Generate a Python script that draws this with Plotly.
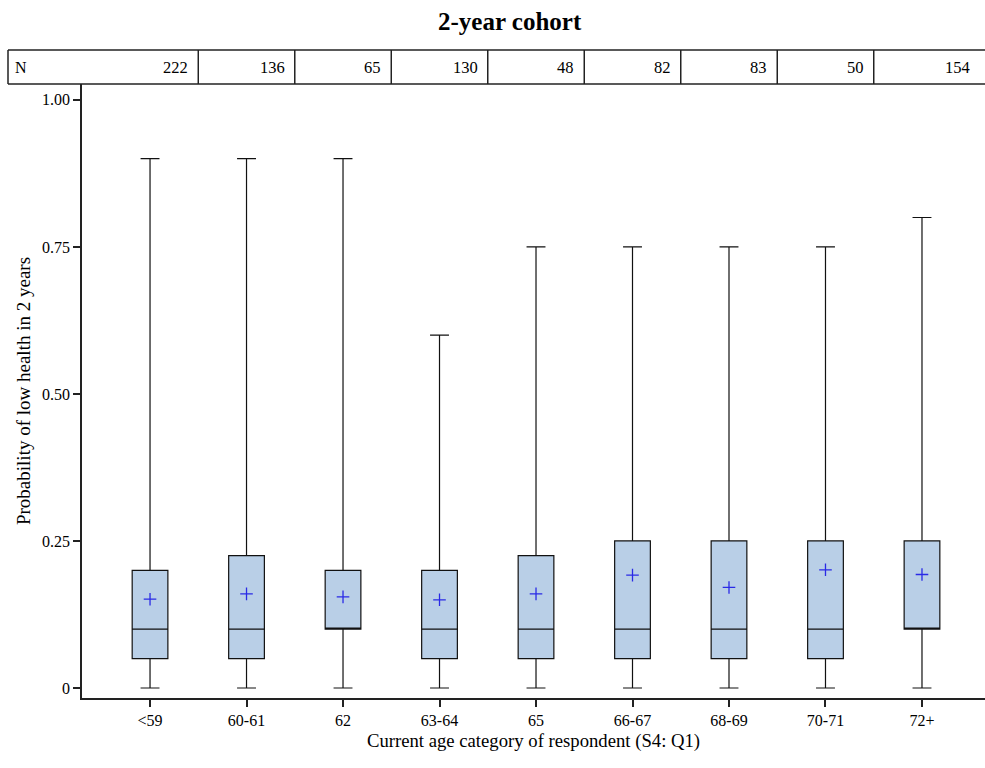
import plotly.graph_objects as go

# Age categories and per-group summary statistics
categories = ["<59", "60-61", "62", "63-64", "65", "66-67", "68-69", "70-71", "72+"]
n_counts = [222, 136, 65, 130, 48, 82, 83, 50, 154]
lower_whisker = [0, 0, 0, 0, 0, 0, 0, 0, 0]
q1 = [0.05, 0.05, 0.10, 0.05, 0.05, 0.05, 0.05, 0.05, 0.10]
median = [0.10, 0.10, 0.10, 0.10, 0.10, 0.10, 0.10, 0.10, 0.10]
q3 = [0.20, 0.225, 0.20, 0.20, 0.225, 0.25, 0.25, 0.25, 0.25]
upper_whisker = [0.90, 0.90, 0.90, 0.60, 0.75, 0.75, 0.75, 0.75, 0.80]
means = [0.151, 0.160, 0.155, 0.150, 0.160, 0.192, 0.171, 0.201, 0.193]

y_ticks = [0, 0.25, 0.5, 0.75, 1.0]
y_ticktext = ["0", "0.25", "0.50", "0.75", "1.00"]

FONT = "Liberation Serif"
W, H = 985, 768
ML, MR, MT, MB = 82, 0, 84, 70
X_RANGE = [-0.705, 8.653]
Y_RANGE = [-0.017, 1.027]

fig = go.Figure()

fig.add_trace(go.Box(
    x=categories,
    q1=q1,
    median=median,
    q3=q3,
    lowerfence=lower_whisker,
    upperfence=upper_whisker,
    boxpoints=False,
    width=0.37,
    whiskerwidth=0.53,
    fillcolor="#b9cfe7",
    line=dict(color="#111111", width=1.2),
    hoverinfo="skip",
    showlegend=False,
))

fig.add_trace(go.Scatter(
    x=categories,
    y=means,
    mode="markers",
    marker=dict(symbol="cross-thin", size=9, line=dict(color="#2a2ae6", width=1.3)),
    hoverinfo="skip",
    showlegend=False,
))

# N table above the plot area
plot_w = W - ML - MR
plot_h = H - MT - MB


def xpaper(v):
    return (v - X_RANGE[0]) / (X_RANGE[1] - X_RANGE[0])


def px_to_paper_x(px):
    return (px - ML) / plot_w


def py_to_paper_y(py):
    return (H - MB - py) / plot_h


tbl_top = py_to_paper_y(50)
tbl_bot = py_to_paper_y(84)
tbl_left = px_to_paper_x(8)
tbl_right = 1.02

shapes = []
line_style = dict(color="#222222", width=1.5)
shapes.append(dict(type="line", xref="paper", yref="paper", x0=tbl_left, x1=tbl_right,
                   y0=tbl_top, y1=tbl_top, line=line_style))
shapes.append(dict(type="line", xref="paper", yref="paper", x0=tbl_left, x1=tbl_right,
                   y0=tbl_bot, y1=tbl_bot, line=line_style))
shapes.append(dict(type="line", xref="paper", yref="paper", x0=tbl_left, x1=tbl_left,
                   y0=tbl_bot, y1=tbl_top, line=line_style))
for i in range(len(categories) - 1):
    xb = xpaper(i + 0.5)
    shapes.append(dict(type="line", xref="paper", yref="paper", x0=xb, x1=xb,
                       y0=tbl_bot, y1=tbl_top, line=line_style))

annotations = []
annotations.append(dict(x=px_to_paper_x(13), y=(tbl_top + tbl_bot) / 2, xref="paper", yref="paper",
                        text="N", showarrow=False, xanchor="left", yanchor="middle",
                        font=dict(family=FONT, size=16, color="black")))
for i, n in enumerate(n_counts):
    right_edge = xpaper(i + 0.5) if i < len(categories) - 1 else px_to_paper_x(980)
    annotations.append(dict(x=right_edge - 8 / plot_w, y=(tbl_top + tbl_bot) / 2,
                            xref="paper", yref="paper", text=str(n), showarrow=False,
                            xanchor="right", yanchor="middle",
                            font=dict(family=FONT, size=16.5, color="black")))

annotations.append(dict(x=px_to_paper_x(510), y=py_to_paper_y(22), xref="paper", yref="paper",
                        text="<b>2-year cohort</b>", showarrow=False, xanchor="center",
                        yanchor="middle", font=dict(family=FONT, size=25, color="black")))

fig.update_layout(
    width=W,
    height=H,
    margin=dict(l=ML, r=MR, t=MT, b=MB, pad=0),
    paper_bgcolor="white",
    plot_bgcolor="white",
    font=dict(family=FONT, size=16, color="black"),
    shapes=shapes,
    annotations=annotations,
    xaxis=dict(
        type="category",
        range=X_RANGE,
        showgrid=False,
        zeroline=False,
        showline=True,
        linecolor="#222222",
        linewidth=1.5,
        ticks="outside",
        ticklen=7,
        tickcolor="#222222",
        tickwidth=1.5,
        tickfont=dict(family=FONT, size=16, color="black"),
        title=dict(text="Current age category of respondent (S4: Q1)",
                   font=dict(family=FONT, size=18.7, color="black"), standoff=6),
    ),
    yaxis=dict(
        range=Y_RANGE,
        showgrid=False,
        zeroline=False,
        showline=True,
        linecolor="#222222",
        linewidth=1.5,
        ticks="outside",
        ticklen=7,
        tickcolor="#222222",
        tickwidth=1.5,
        tickvals=y_ticks,
        ticktext=y_ticktext,
        tickfont=dict(family=FONT, size=16, color="black"),
        title=dict(text="Probability of low health in 2 years",
                   font=dict(family=FONT, size=19, color="black"), standoff=6),
    ),
)

fig.write_html("out.html")
